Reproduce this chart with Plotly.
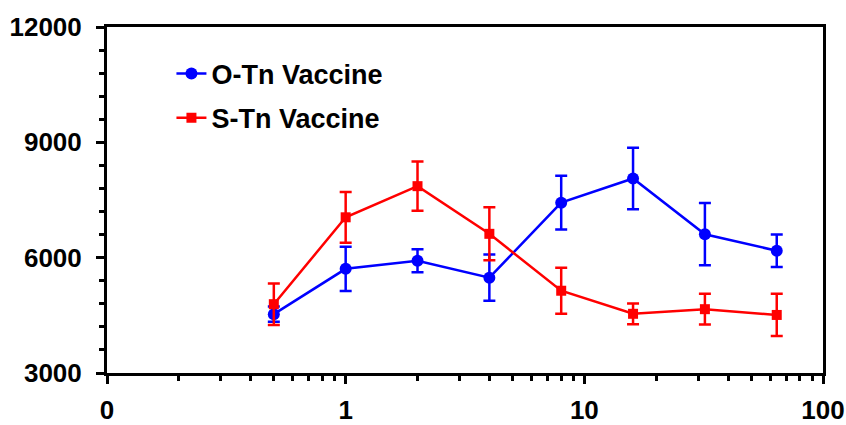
import plotly.graph_objects as go

doses = [0.5, 1, 2, 4, 8, 16, 32, 64]
o_tn = [4530, 5710, 5920, 5480, 7430, 8060, 6610, 6180]
o_tn_err = [200, 575, 300, 600, 700, 800, 810, 420]
s_tn = [4790, 7050, 7860, 6620, 5140, 4540, 4660, 4510]
s_tn_err = [540, 660, 640, 690, 600, 270, 400, 550]

x_tickvals = [0.1, 1, 10, 100]
x_ticktext = ["0", "1", "10", "100"]
y_tickvals = [3000, 6000, 9000, 12000]
y_ticktext = ["3000", "6000", "9000", "12000"]

x_minor = [m * d for d in (0.1, 1, 10) for m in range(2, 10)]

fig = go.Figure()
fig.add_trace(go.Scatter(
    x=doses, y=o_tn, mode="lines+markers", name="O-Tn Vaccine", legendgroup="o",
    line=dict(color="#0000FF", width=2.5),
    marker=dict(symbol="circle", size=12, color="#0000FF"),
    error_y=dict(type="data", array=o_tn_err, color="#0000FF", thickness=2.5, width=6),
))
fig.add_trace(go.Scatter(
    x=doses, y=s_tn, mode="lines+markers", name="S-Tn Vaccine", legendgroup="s",
    line=dict(color="#FF0000", width=2.5),
    marker=dict(symbol="square", size=10, color="#FF0000"),
    error_y=dict(type="data", array=s_tn_err, color="#FF0000", thickness=2.5, width=6),
))

FONT = "Liberation Sans, Arial, sans-serif"
tick_font = dict(family=FONT, size=26, color="black", weight="bold")
fig.update_layout(
    width=846, height=425,
    margin=dict(l=107, r=23, t=27, b=52),
    paper_bgcolor="white", plot_bgcolor="white",
    showlegend=True,
    legend=dict(x=0.09, y=0.935, xanchor="left", yanchor="top",
                font=dict(family=FONT, size=27, color="black", weight="bold"),
                bgcolor="rgba(0,0,0,0)", tracegroupgap=6, traceorder="grouped"),
    xaxis=dict(type="log", range=[-1, 2], tickmode="array", tickvals=x_tickvals, ticktext=x_ticktext,
               showline=True, linecolor="black", linewidth=3, mirror=True,
               ticks="outside", ticklen=8, tickwidth=3, tickcolor="black",
               showgrid=False, zeroline=False, automargin=False,
               tickfont=tick_font, ticklabelstandoff=4,
               minor=dict(tickmode="array", tickvals=x_minor, ticks="outside", ticklen=5, tickwidth=3,
                          tickcolor="black", showgrid=False)),
    yaxis=dict(range=[3000, 12000], tickmode="array", tickvals=y_tickvals, ticktext=y_ticktext,
               showline=True, linecolor="black", linewidth=3, mirror=True,
               ticks="outside", ticklen=8, tickwidth=3, tickcolor="black",
               showgrid=False, zeroline=False, automargin=False,
               tickfont=tick_font, ticklabelstandoff=9,
               minor=dict(tickmode="linear", tick0=3000, dtick=600, ticks="outside", ticklen=5, tickwidth=3,
                          tickcolor="black", showgrid=False)),
)

fig.write_html("out.html", config={"displayModeBar": False},
               post_script="document.body.style.margin='0';document.body.style.overflow='hidden';")
